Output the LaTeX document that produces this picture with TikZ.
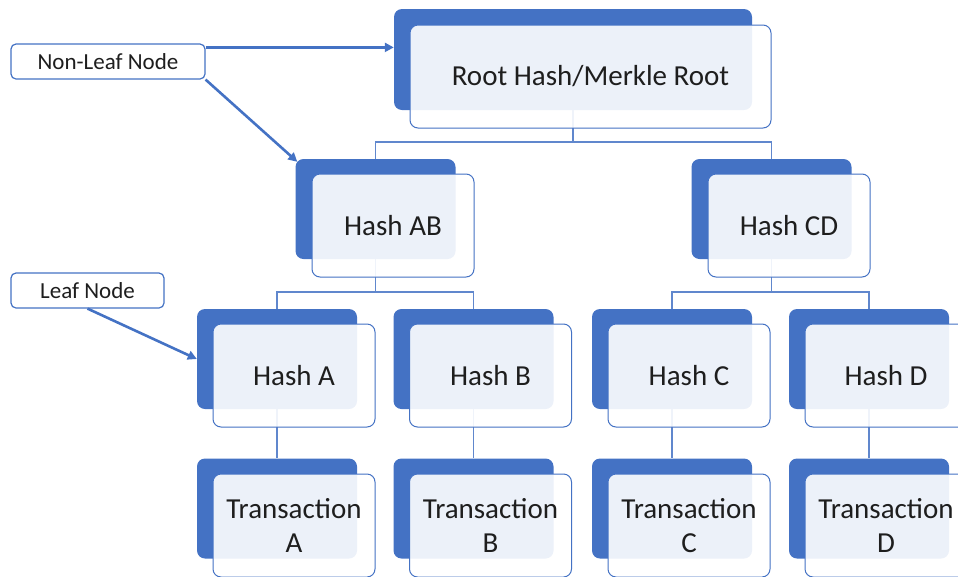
\documentclass[tikz,border=0pt]{standalone}
\usepackage{fontspec}
\setmainfont{Carlito}
\usetikzlibrary{arrows.meta}
\definecolor{accent}{HTML}{4472C4}
\definecolor{txt}{HTML}{1E1E1E}
\tikzset{
  darkbox/.style={draw=none, fill=accent, rounded corners=8pt, minimum width=160pt, minimum height=100pt, inner sep=0pt},
  lightbox/.style={draw=accent, line width=1pt, fill=white, fill opacity=0.9, text opacity=1, text=txt,
    rounded corners=8pt, minimum width=162pt, minimum height=103pt, inner sep=0pt, align=center,
    font=\fontsize{29}{34}\selectfont},
  conn/.style={draw=accent!85, line width=1.5pt},
  label/.style={draw=accent, line width=1.2pt, fill=white, rounded corners=5pt, inner sep=0pt, text=txt,
    font=\fontsize{23}{27}\selectfont},
  arr/.style={draw=accent, line width=2.6pt, -{Triangle[length=9pt,width=9pt]}}
}
\begin{document}
\begin{tikzpicture}[x=1pt,y=-1pt]
\useasboundingbox (0,0) rectangle (958,576);
\clip (0,0) rectangle (958,576);
% dark back boxes
\node[darkbox, minimum width=358pt, minimum height=101pt] (rootd) at (573,59.5) {};
\node[darkbox] (abd) at (375.5,209) {};
\node[darkbox] (cdd) at (771.5,209) {};
\node[darkbox] (ad) at (277,359) {};
\node[darkbox] (bd) at (473.5,359) {};
\node[darkbox] (cd) at (672,359) {};
\node[darkbox] (dd) at (869,359) {};
\node[darkbox] (tad) at (277,508.5) {};
\node[darkbox] (tbd) at (473.5,508.5) {};
\node[darkbox] (tcd) at (672,508.5) {};
\node[darkbox] (tdd) at (869,508.5) {};
% connectors
\draw[conn] (rootd.south) -- ++(0,32) -| (abd.north);
\draw[conn] (rootd.south) -- ++(0,32) -| (cdd.north);
\draw[conn] (abd.south) -- ++(0,33) -| (ad.north);
\draw[conn] (abd.south) -- ++(0,33) -| (bd.north);
\draw[conn] (cdd.south) -- ++(0,33) -| (cd.north);
\draw[conn] (cdd.south) -- ++(0,33) -| (dd.north);
\draw[conn] (ad.south) -- (tad.north);
\draw[conn] (bd.south) -- (tbd.north);
\draw[conn] (cd.south) -- (tcd.north);
\draw[conn] (dd.south) -- (tdd.north);
% light front boxes
\node[lightbox, minimum width=361pt] (root) at (590.5,76.5) {Root Hash/Merkle Root};
\node[lightbox] (ab) at (393,225.5) {Hash AB};
\node[lightbox] (cdn) at (789,225.5) {Hash CD};
\node[lightbox] (a) at (294,375.5) {Hash A};
\node[lightbox] (b) at (490.5,375.5) {Hash B};
\node[lightbox] (c) at (689,375.5) {Hash C};
\node[lightbox] (d) at (886,375.5) {Hash D};
\node[lightbox] (ta) at (294,525.5) {Transaction\\A};
\node[lightbox] (tb) at (490.5,525.5) {Transaction\\B};
\node[lightbox] (tc) at (689,525.5) {Transaction\\C};
\node[lightbox] (td) at (886,525.5) {Transaction\\D};
% labels
\node[label, minimum width=194pt, minimum height=35pt] (nl) at (108,61.5) {Non-Leaf Node};
\node[label, minimum width=153pt, minimum height=35pt] (leaf) at (87.5,290.5) {Leaf Node};
\coordinate (nlA) at ([yshift=-4pt]nl.north east);
\draw[arr] (nlA) -- (nlA -| rootd.west);
\draw[arr] (nl.south east) -- ([xshift=2pt,yshift=-3pt]abd.north west);
\draw[arr] (leaf.south) -- (ad.west);
\end{tikzpicture}
\end{document}
